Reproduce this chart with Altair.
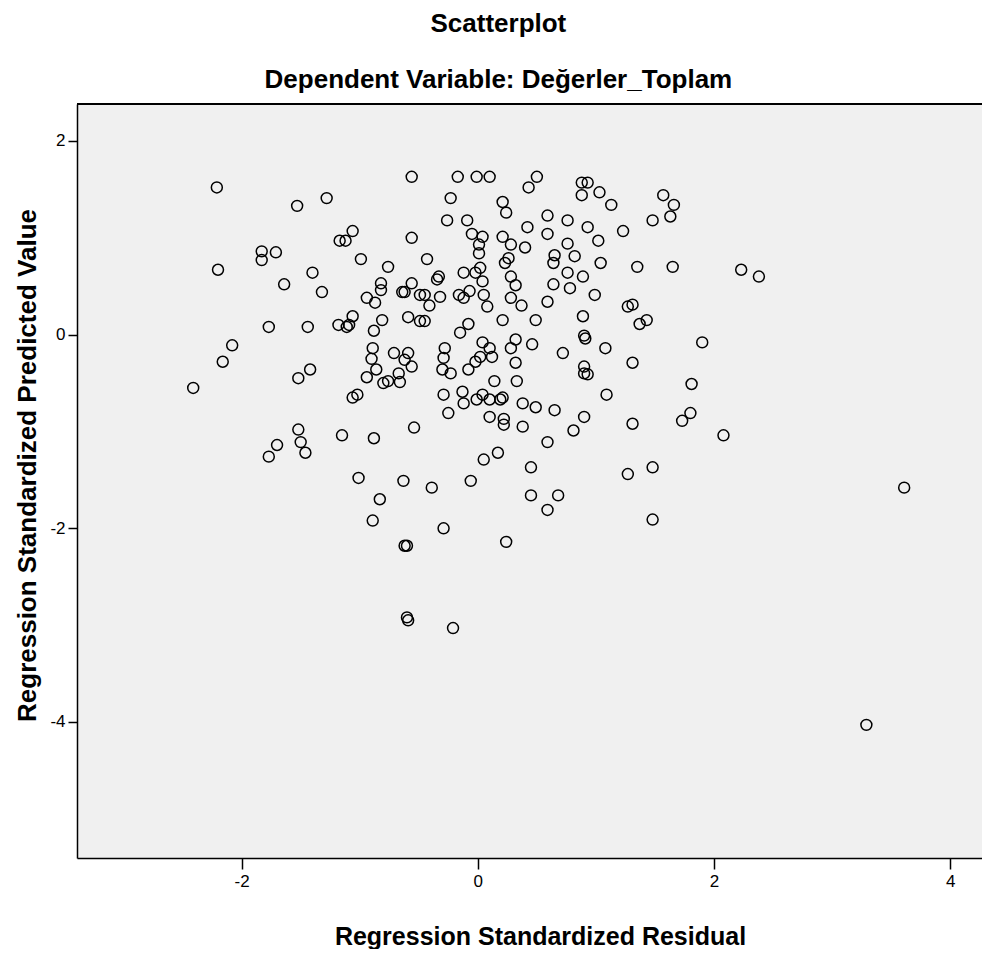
import altair as alt
import pandas as pd

residual = [
    -2.21, -1.53, -1.28, -0.56, -0.17, -0.01, 0.10, 0.50, 0.43, -0.23,
    -0.26, -0.09, 0.21, 0.24, 0.42, -0.05, 0.04, 0.21, 0.28, 0.01,
    0.01, 0.40, 0.26, 0.23, 0.02, -0.02, -0.12, 0.04, 0.28, 0.32,
    -0.16, -0.12, -0.07, 0.05, 0.08, 0.28, 0.37, -0.32, 0.21, 0.49,
    -0.08, -0.15, 0.04, 0.10, 0.28, 0.32, 0.46, -0.28, 0.02, 0.12,
    -0.02, -0.29, -0.30, -0.23, -0.08, 0.32, 0.14, 0.33, -0.29, -0.13,
    -0.12, 0.04, -0.01, 0.10, 0.19, 0.21, -0.25, 0.10, 0.22, 0.22,
    0.38, 0.17, 0.05, -0.06, -0.29, -0.62, -0.60, 0.24, -0.60, -0.59,
    -0.21, 3.61, 3.29,
    2.23, 2.38, 1.90, 2.08, 1.81, 1.80, 1.73, 1.57, 1.66, 1.63,
    1.48, 1.23, 1.13, 1.03, 0.88, 0.93, 0.88, 1.35, 1.65, 1.31,
    1.27, 1.37, 1.43, 1.31, 1.27, 1.48, 1.48, 1.31, 1.09, 1.08,
    0.90, 0.91, 0.90, 0.90, 0.93, 0.89, 0.99, 1.04, 1.02, 0.82,
    0.76, 0.93, 0.76, 0.59, 0.59, 0.65, 0.64, 0.76, 0.89, 0.64,
    0.78, 0.59, 0.81, 0.90, 0.65, 0.59, 0.45, 0.45, 0.68, 0.59,
    0.72, 0.49, 0.38,
    -0.56, -1.06, -1.17, -1.12, -0.99, -0.76, -0.43, -0.94, -0.87, -0.82,
    -0.82, -0.64, -0.62, -0.56, -0.49, -0.45, -0.41, -0.345, -0.33, -0.59,
    -0.49, -0.45, -0.81, -0.88, -1.77, -1.44, -1.18, -1.09, -1.06, -1.11,
    -2.08, -2.16, -2.41, -1.52, -1.42, -0.89, -0.90, -0.86, -0.94, -0.71,
    -0.59, -0.62, -0.56, -0.67, -0.66, -0.80, -0.76, -1.06, -1.02, -2.20,
    -1.83, -1.83, -1.71, -1.64, -1.40, -1.32,
    -1.70, -1.77, -1.52, -1.50, -1.46, -1.15, -0.88, -1.01, -0.83, -0.89,
    -0.63, -0.39, -0.54,
]

predicted = [
    1.52, 1.33, 1.41, 1.63, 1.63, 1.63, 1.63, 1.63, 1.52, 1.41,
    1.18, 1.18, 1.37, 1.26, 1.11, 1.04, 1.01, 1.01, 0.93, 0.93,
    0.84, 0.90, 0.79, 0.74, 0.69, 0.64, 0.64, 0.55, 0.60, 0.51,
    0.41, 0.38, 0.45, 0.41, 0.29, 0.38, 0.30, 0.39, 0.15, 0.15,
    0.11, 0.02, -0.08, -0.14, -0.14, -0.05, -0.10, -0.14, -0.23, -0.23,
    -0.28, -0.24, -0.36, -0.40, -0.36, -0.29, -0.48, -0.48, -0.62, -0.59,
    -0.71, -0.62, -0.67, -0.67, -0.67, -0.65, -0.81, -0.85, -0.87, -0.93,
    -0.95, -1.22, -1.29, -1.51, -2.00, -2.18, -2.18, -2.14, -2.92, -2.95,
    -3.03, -1.58, -4.03,
    0.67, 0.60, -0.08, -1.04, -0.51, -0.81, -0.89, 1.44, 1.34, 1.22,
    1.18, 1.07, 1.34, 1.47, 1.57, 1.57, 1.44, 0.70, 0.70, 0.31,
    0.29, 0.11, 0.15, -0.29, -1.44, -1.37, -1.91, -0.92, -0.62, -0.14,
    -0.01, -0.04, -0.33, -0.40, -0.41, 0.19, 0.41, 0.74, 0.97, 0.81,
    0.94, 1.11, 1.18, 1.23, 1.04, 0.82, 0.74, 0.64, 0.60, 0.52,
    0.48, 0.34, -0.99, -0.85, -0.78, -1.11, -1.37, -1.66, -1.66, -1.81,
    -0.19, -0.75, -0.71,
    1.00, 1.07, 0.97, 0.97, 0.78, 0.70, 0.78, 0.38, 0.33, 0.53,
    0.46, 0.44, 0.44, 0.53, 0.41, 0.41, 0.30, 0.57, 0.60, 0.18,
    0.14, 0.14, 0.15, 0.04, 0.08, 0.08, 0.10, 0.10, 0.19, 0.08,
    -0.11, -0.28, -0.55, -0.45, -0.36, -0.14, -0.25, -0.36, -0.44, -0.19,
    -0.19, -0.26, -0.33, -0.40, -0.49, -0.50, -0.48, -0.65, -0.62, 0.67,
    0.86, 0.77, 0.85, 0.52, 0.64, 0.44,
    -1.14, -1.26, -0.98, -1.11, -1.22, -1.04, -1.07, -1.48, -1.70, -1.92,
    -1.51, -1.58, -0.96,
]

x_ticks = [-2, 0, 2, 4]
y_ticks = [2, 0, -2, -4]

df = pd.DataFrame({"residual": residual, "predicted": predicted})

W = 905
H = 754
FONT = "Liberation Sans"

points = alt.Chart(df).mark_point(
    shape="circle", filled=False, color="black", size=120, strokeWidth=1.5, opacity=1
).encode(
    x=alt.X(
        "residual:Q",
        scale=alt.Scale(domain=[-3.394, 4.269], nice=False, zero=False),
        axis=alt.Axis(
            values=x_ticks, labelExpr="datum.value + ''", grid=False,
            title="Regression Standardized Residual",
            titleX=463, titleY=86, titleBaseline="alphabetic",
            titleFontSize=25,
            tickSize=11, labelPadding=4,
        ),
    ),
    y=alt.Y(
        "predicted:Q",
        scale=alt.Scale(domain=[-5.405, 2.382], nice=False, zero=False),
        axis=alt.Axis(
            values=y_ticks, labelExpr="datum.value + ''", grid=False,
            title="Regression Standardized Predicted Value",
            titleX=-37, titleY=361, titleBaseline="bottom", titleAngle=-90,
            titleFontSize=26,
            tickSize=9, labelPadding=3,
        ),
    ),
)

top_border = alt.Chart(df).mark_rule(color="black", strokeWidth=1.5).encode(
    x=alt.value(0), x2=alt.value(W), y=alt.value(0)
)

chart = alt.layer(top_border, points).properties(
    width=W,
    height=H,
    autosize=alt.AutoSizeParams(type="none"),
    padding={"left": 69, "top": 96, "right": 0, "bottom": 91},
    title=alt.TitleParams(
        text="Scatterplot",
        subtitle="Dependent Variable: Değerler_Toplam",
        anchor="middle",
        frame="bounds",
        font=FONT, fontSize=26, fontWeight="bold", color="black",
        subtitleFont=FONT, subtitleFontSize=26, subtitleFontWeight="bold",
        subtitleColor="black", subtitlePadding=30, offset=10,
    ),
).configure_view(
    fill="#F0F0F0", stroke=None
).configure_axis(
    domainColor="black", domainWidth=1.5, tickColor="black", tickWidth=1.5,
    labelColor="black", labelFont=FONT, labelFontSize=17,
    titleColor="black", titleFont=FONT, titleFontWeight="bold",
)

chart.save("out.html", embed_options={"renderer": "svg", "actions": False})
